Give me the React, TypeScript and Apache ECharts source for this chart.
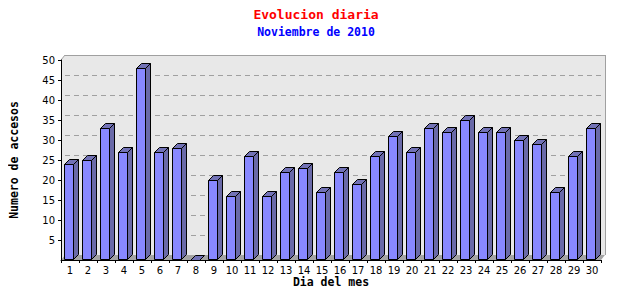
import React, { useEffect, useRef } from "react";
import * as echarts from "echarts";

const days = ["1","2","3","4","5","6","7","8","9","10","11","12","13","14","15","16","17","18","19","20","21","22","23","24","25","26","27","28","29","30"];
const visits = [24,25,33,27,48,27,28,0,20,16,26,16,22,23,17,22,19,26,31,27,33,32,35,32,32,30,29,17,26,33];
const yTicks = [5,10,15,20,25,30,35,40,45,50];

const MONO = "'DejaVu Sans Mono', monospace";
const SANS = "'DejaVu Sans', Verdana, sans-serif";

export default function App() {
  const ref = useRef<HTMLDivElement>(null);
  useEffect(() => {
    if (!ref.current) return;
    const chart = echarts.init(ref.current, null, { renderer: "svg" });
    const PDX = 4, PDY = 5, D = 5;
    const option: any = {
      animation: false,
      backgroundColor: "#ffffff",
      title: {
        text: "Evolucion diaria",
        subtext: "Noviembre de 2010",
        left: 311,
        textAlign: "center",
        top: 2,
        itemGap: 3,
        textStyle: { fontFamily: MONO, fontWeight: "bold", fontSize: 13, color: "#ff0000", lineHeight: 15 },
        subtextStyle: { fontFamily: MONO, fontWeight: "bold", fontSize: 11.5, color: "#0000ff", lineHeight: 13 },
      },
      grid: { left: 61, right: 39, top: 60, bottom: 40, containLabel: false },
      xAxis: {
        type: "category",
        data: days,
        z: 10,
        name: "Dia del mes",
        nameLocation: "middle",
        nameGap: 16,
        nameMoveOverlap: false,
        nameTextStyle: { fontFamily: MONO, fontWeight: "bold", fontSize: 11.5, color: "#000" },
        axisLine: { show: true, lineStyle: { color: "#000", width: 1 } },
        axisTick: { show: true, interval: 0, length: 3, lineStyle: { color: "#000" } },
        axisLabel: { interval: 0, fontFamily: SANS, fontSize: 10, color: "#000", margin: 5 },
        splitLine: { show: false },
      },
      yAxis: {
        type: "value",
        min: 0,
        max: 50,
        interval: 5,
        z: 10,
        name: "Numero de accesos",
        nameLocation: "middle",
        nameRotate: 90,
        nameGap: 41,
        nameMoveOverlap: false,
        nameTextStyle: { fontFamily: MONO, fontWeight: "bold", fontSize: 11.5, color: "#000" },
        axisLine: { show: true, lineStyle: { color: "#000", width: 1 } },
        axisTick: { show: true, length: 3, lineStyle: { color: "#000" } },
        axisLabel: { showMinLabel: false, fontFamily: SANS, fontSize: 10, color: "#000", margin: 6 },
        splitLine: { show: false },
      },
      series: [
        {
          type: "custom",
          z: 1,
          silent: true,
          data: [[0, 0]],
          renderItem: (params: any, api: any) => {
            const cs = params.coordSys;
            const x = cs.x, y = cs.y, w = cs.width, h = cs.height;
            return {
              type: "group",
              children: [
                { type: "rect", shape: { x: x + PDX, y: y - PDY, width: w, height: h }, style: { fill: "#e8e8e8" } },
                { type: "polygon", shape: { points: [[x, y], [x + PDX, y - PDY], [x + PDX, y + h - PDY], [x, y + h]] }, style: { fill: "#e8e8e8" } },
                { type: "polygon", shape: { points: [[x, y + h], [x + PDX, y + h - PDY], [x + w + PDX, y + h - PDY], [x + w, y + h]] }, style: { fill: "#a4a4a4" } },
                { type: "line", shape: { x1: x + PDX, y1: y - PDY + 0.5, x2: x + w + PDX + 0.5, y2: y - PDY + 0.5 }, style: { stroke: "#a0a0a0", lineWidth: 1 } },
                { type: "line", shape: { x1: x + w + PDX + 0.5, y1: y - PDY, x2: x + w + PDX + 0.5, y2: y + h - PDY }, style: { stroke: "#a0a0a0", lineWidth: 1 } },
                { type: "line", shape: { x1: x, y1: y, x2: x + PDX, y2: y - PDY }, style: { stroke: "#a0a0a0", lineWidth: 1 } },
              ],
            };
          },
        },
        {
          type: "custom",
          z: 2,
          silent: true,
          data: yTicks.map((v) => [0, v]),
          renderItem: (params: any, api: any) => {
            const cs = params.coordSys;
            const yy = Math.round(api.coord([0, api.value(1)])[1]) - PDY + 0.5;
            return {
              type: "line",
              shape: { x1: cs.x + PDX, y1: yy, x2: cs.x + cs.width + PDX, y2: yy },
              style: { stroke: "#a0a0a0", lineWidth: 1, lineDash: [5, 4] },
            };
          },
        },
        {
          type: "custom",
          z: 3,
          data: visits.map((v, i) => [i, v]),
          renderItem: (params: any, api: any) => {
            const idx = api.value(0);
            const v = api.value(1);
            const top = api.coord([idx, v]);
            const base = api.coord([idx, 0]);
            const cx = Math.round(top[0]);
            const x0 = cx - 5.5;
            const x1 = x0 + 9;
            const yt = Math.round(top[1]) + 0.5;
            const yb = Math.round(base[1]) - 0.5;
            const children: any[] = [];
            if (yb > yt) {
              children.push({ type: "rect", shape: { x: x0, y: yt, width: x1 - x0, height: yb - yt }, style: { fill: "#8888ff", stroke: "#000", lineWidth: 1 } });
              children.push({ type: "polygon", shape: { points: [[x1, yt], [x1 + D, yt - D], [x1 + D, yb - D], [x1, yb]] }, style: { fill: "#6a6aa8", stroke: "#000", lineWidth: 1 } });
            }
            children.push({ type: "polygon", shape: { points: [[x0, yt], [x0 + D, yt - D], [x1 + D, yt - D], [x1, yt]] }, style: { fill: "#7272b6", stroke: "#000", lineWidth: 1 } });
            return { type: "group", children };
          },
        },
      ],
    };
    chart.setOption(option);
    return () => chart.dispose();
  }, []);
  return <div ref={ref} style={{ width: 640, height: 300, margin: -8 }} />;
}
